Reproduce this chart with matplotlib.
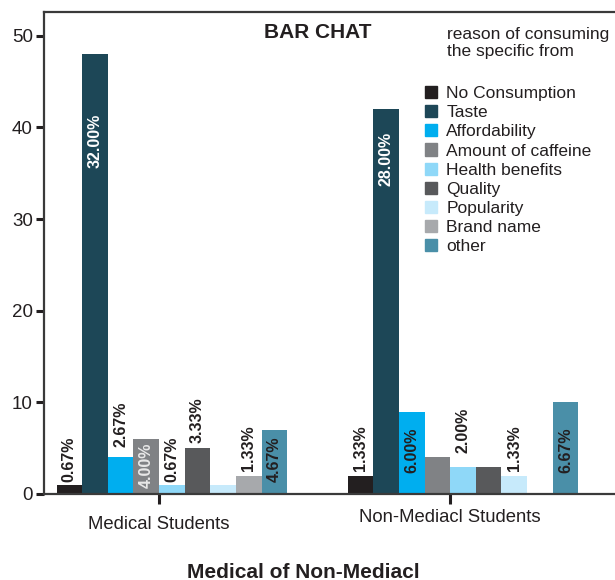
import numpy as np
import matplotlib.pyplot as plt
import matplotlib.transforms as mtransforms
from matplotlib.patches import Patch

plt.rcParams["font.family"] = ["Liberation Sans", "DejaVu Sans"]

groups = ["Medical Students", "Non-Mediacl Students"]
reasons = ["No Consumption", "Taste", "Affordability", "Amount of caffeine",
           "Health benefits", "Quality", "Popularity", "Brand name", "other"]
# counts per reason, medical / non-medical
medical = [1, 48, 4, 6, 1, 5, 1, 2, 7]
non_medical = [2, 42, 9, 4, 3, 3, 2, 0, 10]
medical_pct = ["0.67%", "32.00%", "2.67%", "4.00%", "0.67%", "3.33%", "", "1.33%", "4.67%"]
non_medical_pct = ["1.33%", "28.00%", "6.00%", "", "2.00%", "", "1.33%", "", "6.67%"]

colors = ["#231f20", "#1d4757", "#00aeef", "#808285", "#8fd8f8",
          "#58595b", "#c7eafb", "#a7a9ac", "#4a8fa8"]

# where each label sits (centre, in y units) and its colour
lab_y = [[3.77, 38.5, 7.59, 3.17, 3.77, 8.08, 0, 4.97, 3.77],
         [5.02, 36.6, 4.75, 0, 6.93, 0, 4.97, 0, 4.8]]
lab_c = [["#231f20", "white", "#231f20", "#e8e8e8", "#231f20", "#231f20", "#231f20", "#231f20", "#231f20"],
         ["#231f20", "white", "#231f20", "#231f20", "#231f20", "#231f20", "#231f20", "#231f20", "#231f20"]]

fig = plt.figure(figsize=(6.15, 5.8), dpi=100)
ax = fig.add_axes([44/615, 86/580, 610/615, 482/580])

w = 0.088
x = np.arange(len(groups))
for i, r in enumerate(reasons):
    vals = [medical[i], non_medical[i]]
    pos = x + (i - 3.5) * w
    ax.bar(pos, vals, width=w, color=colors[i], label=r)
    for g, pcts in enumerate([medical_pct, non_medical_pct]):
        if pcts[i]:
            ax.text(pos[g], lab_y[g][i], pcts[i], rotation=90, ha="center", va="center",
                    fontsize=11.5, fontweight="bold", color=lab_c[g][i])

ax.set_xlim(-0.395, 1.7)
ax.set_ylim(0, 52.6)
ax.set_xticks(x)
ax.set_xticklabels(groups, fontsize=13.3, color="#231f20")
ax.set_yticks(range(0, 51, 10))
ax.tick_params(axis="y", labelsize=13.5, length=6, width=2.2, colors="#231f20", pad=2)
ax.tick_params(axis="x", length=7, width=2.2, colors="#231f20", pad=9)
# second group label sits a bit higher in the original
lbl = ax.get_xticklabels()[1]
lbl.set_transform(lbl.get_transform() + mtransforms.ScaledTranslation(0, 7/100, fig.dpi_scale_trans))
ax.spines["right"].set_visible(False)
for s in ["left", "bottom", "top"]:
    ax.spines[s].set_linewidth(1.6)
    ax.spines[s].set_color("#3a3a3a")

ax.set_xlabel("Medical of Non-Mediacl", fontsize=15, fontweight="bold", color="#231f20")
ax.xaxis.set_label_coords((303 - 44) / 610, (494 - 572) / 482)
ax.xaxis.label.set_va("center")
fig.text(318/615, 1 - 32/580, "BAR CHAT", fontsize=15, fontweight="bold", ha="center", va="center",
         color="#231f20")
fig.text(447/615, 1 - 27/580, "reason of consuming\nthe specific from", fontsize=12.5,
         ha="left", va="top", color="#231f20", linespacing=1.15)

handles = [Patch(color=c) for c in colors]
ax.legend(handles, reasons, loc="upper left", bbox_to_anchor=(425/615, 1 - 86/580),
          bbox_transform=fig.transFigure, frameon=False, fontsize=12.5, borderpad=0,
          borderaxespad=0, handlelength=0.7, handleheight=0.7, handletextpad=0.52,
          labelspacing=0.23, labelcolor="#231f20")

fig.savefig("out.png", dpi=100)
